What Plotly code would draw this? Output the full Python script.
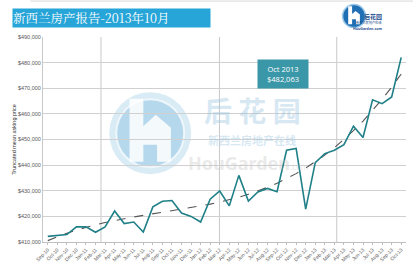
import numpy as np
import plotly.graph_objects as go

months = ["Sep-10","Oct-10","Nov-10","Dec-10","Jan-11","Feb-11","Mar-11","Apr-11","May-11","Jun-11","Jul-11","Aug-11",
          "Sep-11","Oct-11","Nov-11","Dec-11","Jan-12","Feb-12","Mar-12","Apr-12","May-12","Jun-12","Jul-12","Aug-12",
          "Sep-12","Oct-12","Nov-12","Dec-12","Jan-13","Feb-13","Mar-13","Apr-13","May-13","Jun-13","Jul-13","Aug-13",
          "Sep-13","Oct-13"]
prices = [412200, 412500, 412900, 415900, 415900, 413800, 415900, 422100, 417200, 417800, 413900, 423700,
          425900, 426200, 421300, 420000, 417800, 426700, 429900, 424100, 436000, 426000, 429500, 430900,
          429600, 445800, 446500, 422800, 441000, 444500, 445800, 448000, 455200, 450800, 465500, 464000,
          466600, 482063]
y_ticks = [410000, 420000, 430000, 440000, 450000, 460000, 470000, 480000, 490000]
callout_title = "Oct 2013"
callout_value = "$482,063"
title_text = "新西兰房产报告-2013年10月"

W, H = 413, 270
L, R, T, B = 42.7, 406.0, 36.9, 241.7

def px(x):
    return (x - L) / (R - L)

def py(y):
    return (B - y) / (B - T)

idx = np.arange(len(prices))
coef = np.polyfit(idx, prices, 3)
trend = np.polyval(coef, idx)

fig = go.Figure()
fig.add_trace(go.Scatter(x=idx, y=trend, mode="lines",
                         line=dict(color="#555555", width=1.1, dash="dash"), hoverinfo="skip"))
fig.add_trace(go.Scatter(x=idx, y=prices, mode="lines",
                         line=dict(color="#1f8088", width=1.6)))

shapes = []
shapes.append(dict(type="line", xref="paper", yref="paper", x0=px(30), x1=px(413), y0=py(1), y1=py(1),
                   line=dict(color="#d9d9d9", width=1)))
for gx in [5.57, 17.97, 30.25]:
    shapes.append(dict(type="line", xref="x", yref="paper", x0=gx, x1=gx, y0=0, y1=1,
                       line=dict(color="#c8c8c8", width=1), layer="below"))

cx, cy, r = 150, 133, 41
shapes.append(dict(type="circle", xref="paper", yref="paper", x0=px(cx - r), x1=px(cx + r),
                   y0=py(cy + r), y1=py(cy - r), fillcolor="rgba(160,205,230,0.4)",
                   line=dict(width=0), layer="below"))
r2 = 34
shapes.append(dict(type="circle", xref="paper", yref="paper", x0=px(cx - r2), x1=px(cx + r2),
                   y0=py(cy + r2), y1=py(cy - r2), fillcolor="rgba(130,188,222,0.4)",
                   line=dict(color="rgba(240,248,252,0.95)", width=2), layer="below"))

def hpath(cx, cy, s):
    pts = [(-0.45, -0.75), (-0.15, -0.75), (-0.15, -0.15), (0.12, -0.4), (0.45, -0.12),
           (0.45, 0.62), (0.15, 0.62), (0.15, 0.25), (-0.15, 0.25), (-0.15, 0.62), (-0.45, 0.62)]
    d = ""
    for i, (a, b) in enumerate(pts):
        d += ("M" if i == 0 else "L") + f"{px(cx + a * s):.4f},{py(cy + b * s):.4f} "
    return d + "Z"

shapes.append(dict(type="path", xref="paper", yref="paper", path=hpath(cx, cy, 46),
                   fillcolor="rgba(255,255,255,0.85)", line=dict(width=0), layer="below"))

lx, ly, lr = 354, 16, 11.5
shapes.append(dict(type="circle", xref="paper", yref="paper", x0=px(lx - lr), x1=px(lx + lr),
                   y0=py(ly + lr), y1=py(ly - lr), fillcolor="#1f6fb5",
                   line=dict(color="#9cc8e8", width=1.5)))
shapes.append(dict(type="path", xref="paper", yref="paper", path=hpath(lx, ly, 13),
                   fillcolor="white", line=dict(width=0)))

annotations = []
annotations.append(dict(x=px(12), y=py(8), xref="paper", yref="paper", text=title_text, showarrow=False,
                        xanchor="left", yanchor="top", bgcolor="#27a5d8", width=197, height=18, borderpad=0,
                        align="left",
                        font=dict(family="Noto Serif CJK SC, Noto Sans CJK SC", size=12.5, color="white")))
annotations.append(dict(x=px(384), y=py(9.5), xref="paper", yref="paper", text="<b>后花园</b>", showarrow=False,
                        font=dict(family="Noto Sans CJK SC", size=6, color="#1f4f8f")))
annotations.append(dict(x=px(384), y=py(17.8), xref="paper", yref="paper", text="新西兰房地产在线", showarrow=False,
                        font=dict(family="Noto Sans CJK SC", size=3.2, color="#1f4f8f")))
annotations.append(dict(x=px(384), y=py(23.8), xref="paper", yref="paper", text="<b>HouGarden.com</b>", showarrow=False,
                        font=dict(family="Noto Sans", size=3.6, color="#1f4f8f")))
annotations.append(dict(x=px(252), y=py(110), xref="paper", yref="paper", text="<b>后 花 园</b>", showarrow=False,
                        font=dict(family="Noto Sans CJK SC", size=28, color="rgba(150,195,225,0.4)")))
annotations.append(dict(x=px(252), y=py(140), xref="paper", yref="paper", text="<b>新西兰房地产在线</b>", showarrow=False,
                        font=dict(family="Noto Sans CJK SC", size=11, color="rgba(150,195,225,0.4)")))
annotations.append(dict(x=px(248), y=py(163), xref="paper", yref="paper", text="<b>HouGarden</b><span style='font-size:8px'>.com</span>", showarrow=False,
                        font=dict(family="Noto Sans", size=18, color="rgba(200,200,200,0.4)")))
annotations.append(dict(x=px(8), y=0.5, xref="paper", yref="paper", text="Truncated mean asking price",
                        showarrow=False, textangle=-90, font=dict(family="Liberation Sans", size=5.5, color="#333333")))
annotations.append(dict(x=px(309), y=py(59), xref="paper", yref="paper",
                        text=f"{callout_title}<br>{callout_value}", showarrow=False,
                        bgcolor="#3a97a8", font=dict(family="Open Sans", size=7.5, color="white"),
                        borderpad=4, width=42, align="center"))
annotations.append(dict(x=idx[-1] - 0.3, y=prices[-1], xref="x", yref="y",
                        ax=px(333), ay=py(48), axref="x domain", ayref="y domain", text="", showarrow=True,
                        arrowhead=2, arrowsize=1, arrowwidth=1.3, arrowcolor="#4f86c6", standoff=2))

fig.update_layout(
    width=W, height=H,
    margin=dict(l=L, r=W - R, t=T, b=H - B, autoexpand=False),
    paper_bgcolor="white", plot_bgcolor="white",
    showlegend=False,
    shapes=shapes, annotations=annotations,
    xaxis=dict(range=[-0.5, len(prices) - 0.5], tickmode="array", tickvals=idx, ticktext=months,
               tickangle=-45, tickfont=dict(family="Liberation Sans", size=5, color="#595959"),
               showgrid=False, zeroline=False, showline=True, linecolor="#bfbfbf", linewidth=1,
               ticks="outside", ticklen=2, tickcolor="#bfbfbf", fixedrange=True, automargin=False),
    yaxis=dict(range=[410000, 490000], tickmode="array", tickvals=y_ticks,
               ticktext=[f"${v:,}" for v in y_ticks],
               tickfont=dict(family="Liberation Sans", size=5.5, color="#595959"),
               showgrid=True, gridcolor="#d0d0d0", gridwidth=1, zeroline=False,
               showline=True, linecolor="#c8c8c8", linewidth=1, ticks="", fixedrange=True, automargin=False),
)

fig.write_html("out.html", config={"displayModeBar": False},
               post_script="document.body.style.margin='0';document.body.style.overflow='hidden';")
